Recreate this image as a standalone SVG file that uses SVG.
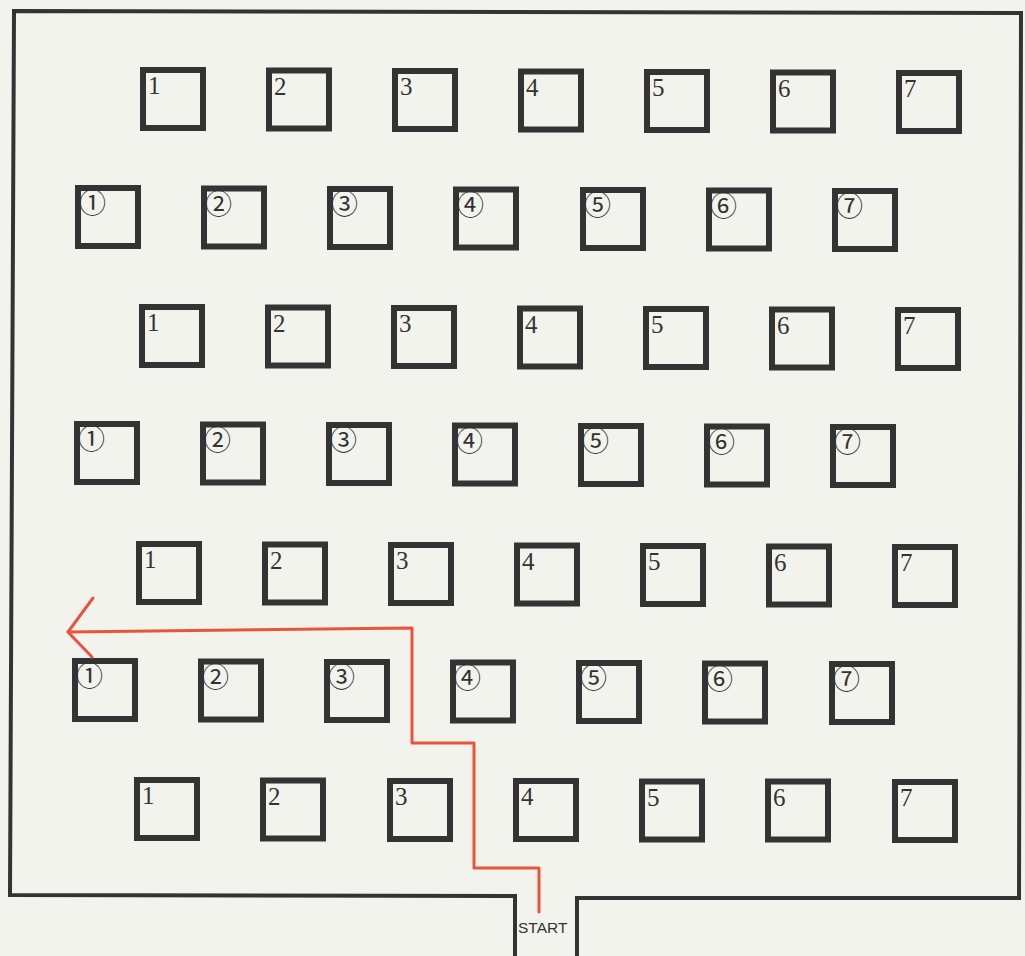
<svg xmlns="http://www.w3.org/2000/svg" width="1025" height="956" viewBox="0 0 1025 956">
<style>
.bg{fill:#f3f3ee}
.wall{fill:none;stroke:#333;stroke-width:4;stroke-linejoin:miter}
.bx{fill:none;stroke:#333;stroke-width:6}
.n{font-family:"Liberation Serif","Times New Roman",serif;font-size:25px;fill:#333}
.c{font-family:"Liberation Serif","DejaVu Serif","Noto Sans CJK JP",serif;font-size:27px;fill:#333}
.route{fill:none;stroke:#e8553a;stroke-width:3;stroke-linecap:round;stroke-linejoin:round}
.start{font-family:"Liberation Sans",Arial,sans-serif;font-size:15.5px;fill:#333}
</style>
<defs>
<rect id="b" class="bx" x="3" y="3" width="60" height="58"/>
</defs>
<rect class="bg" x="0" y="0" width="1025" height="956"/>
<g id="walls">
<polyline class="wall" points="515,956 515,896 10,895 14,11 1021,13 1019,898 577,898 577,956"/>
</g>
<g id="rowA">
<g id="a1" transform="translate(140,67)"><use href="#b"/><text class="n" x="8" y="27">1</text></g>
<g id="a2" transform="translate(266,67.5)"><use href="#b"/><text class="n" x="8" y="27">2</text></g>
<g id="a3" transform="translate(392,68)"><use href="#b"/><text class="n" x="8" y="27">3</text></g>
<g id="a4" transform="translate(518,68.5)"><use href="#b"/><text class="n" x="8" y="27">4</text></g>
<g id="a5" transform="translate(644,69)"><use href="#b"/><text class="n" x="8" y="27">5</text></g>
<g id="a6" transform="translate(770,69.5)"><use href="#b"/><text class="n" x="8" y="27">6</text></g>
<g id="a7" transform="translate(896,70)"><use href="#b"/><text class="n" x="8" y="27">7</text></g>
</g>
<g id="rowB">
<g id="b1" transform="translate(75,185)"><use href="#b"/><text class="c" x="4" y="28">①</text></g>
<g id="b2" transform="translate(201,185.5)"><use href="#b"/><text class="c" x="4" y="28">②</text></g>
<g id="b3" transform="translate(327,186)"><use href="#b"/><text class="c" x="4" y="28">③</text></g>
<g id="b4" transform="translate(453,186.5)"><use href="#b"/><text class="c" x="4" y="28">④</text></g>
<g id="b5" transform="translate(580,187)"><use href="#b"/><text class="c" x="4" y="28">⑤</text></g>
<g id="b6" transform="translate(706,187.5)"><use href="#b"/><text class="c" x="4" y="28">⑥</text></g>
<g id="b7" transform="translate(832,188)"><use href="#b"/><text class="c" x="4" y="28">⑦</text></g>
</g>
<g id="rowC">
<g id="c1" transform="translate(139,304)"><use href="#b"/><text class="n" x="8" y="27">1</text></g>
<g id="c2" transform="translate(265,304.5)"><use href="#b"/><text class="n" x="8" y="27">2</text></g>
<g id="c3" transform="translate(391,305)"><use href="#b"/><text class="n" x="8" y="27">3</text></g>
<g id="c4" transform="translate(517,305.5)"><use href="#b"/><text class="n" x="8" y="27">4</text></g>
<g id="c5" transform="translate(643,306)"><use href="#b"/><text class="n" x="8" y="27">5</text></g>
<g id="c6" transform="translate(769,306.5)"><use href="#b"/><text class="n" x="8" y="27">6</text></g>
<g id="c7" transform="translate(895,307)"><use href="#b"/><text class="n" x="8" y="27">7</text></g>
</g>
<g id="rowD">
<g id="d1" transform="translate(74,421)"><use href="#b"/><text class="c" x="4" y="28">①</text></g>
<g id="d2" transform="translate(200,421.5)"><use href="#b"/><text class="c" x="4" y="28">②</text></g>
<g id="d3" transform="translate(326,422)"><use href="#b"/><text class="c" x="4" y="28">③</text></g>
<g id="d4" transform="translate(452,422.5)"><use href="#b"/><text class="c" x="4" y="28">④</text></g>
<g id="d5" transform="translate(578,423)"><use href="#b"/><text class="c" x="4" y="28">⑤</text></g>
<g id="d6" transform="translate(704,423.5)"><use href="#b"/><text class="c" x="4" y="28">⑥</text></g>
<g id="d7" transform="translate(830,424)"><use href="#b"/><text class="c" x="4" y="28">⑦</text></g>
</g>
<g id="rowE">
<g id="e1" transform="translate(136,541)"><use href="#b"/><text class="n" x="8" y="27">1</text></g>
<g id="e2" transform="translate(262,541.5)"><use href="#b"/><text class="n" x="8" y="27">2</text></g>
<g id="e3" transform="translate(388,542)"><use href="#b"/><text class="n" x="8" y="27">3</text></g>
<g id="e4" transform="translate(514,542.5)"><use href="#b"/><text class="n" x="8" y="27">4</text></g>
<g id="e5" transform="translate(640,543)"><use href="#b"/><text class="n" x="8" y="27">5</text></g>
<g id="e6" transform="translate(766,543.5)"><use href="#b"/><text class="n" x="8" y="27">6</text></g>
<g id="e7" transform="translate(892,544)"><use href="#b"/><text class="n" x="8" y="27">7</text></g>
</g>
<g id="rowF">
<g id="f1" transform="translate(72,658)"><use href="#b"/><text class="c" x="4" y="28">①</text></g>
<g id="f2" transform="translate(198,658.5)"><use href="#b"/><text class="c" x="4" y="28">②</text></g>
<g id="f3" transform="translate(324,659)"><use href="#b"/><text class="c" x="4" y="28">③</text></g>
<g id="f4" transform="translate(450,659.5)"><use href="#b"/><text class="c" x="4" y="28">④</text></g>
<g id="f5" transform="translate(576,660)"><use href="#b"/><text class="c" x="4" y="28">⑤</text></g>
<g id="f6" transform="translate(702,660.5)"><use href="#b"/><text class="c" x="4" y="28">⑥</text></g>
<g id="f7" transform="translate(829,661)"><use href="#b"/><text class="c" x="4" y="28">⑦</text></g>
</g>
<g id="rowG">
<g id="g1" transform="translate(134,777)"><use href="#b"/><text class="n" x="8" y="27">1</text></g>
<g id="g2" transform="translate(260,777.5)"><use href="#b"/><text class="n" x="8" y="27">2</text></g>
<g id="g3" transform="translate(387,778)"><use href="#b"/><text class="n" x="8" y="27">3</text></g>
<g id="g4" transform="translate(513,778)"><use href="#b"/><text class="n" x="8" y="27">4</text></g>
<g id="g5" transform="translate(639,778.5)"><use href="#b"/><text class="n" x="8" y="27">5</text></g>
<g id="g6" transform="translate(765,778.5)"><use href="#b"/><text class="n" x="8" y="27">6</text></g>
<g id="g7" transform="translate(892,779)"><use href="#b"/><text class="n" x="8" y="27">7</text></g>
</g>
<g id="start">
<text class="start" x="518" y="933">START</text>
</g>
<g id="connectors">
<polyline class="route" points="539,912 539,868 474,868 474,743 412,743 412,628 68,632"/>
<polyline class="route" points="93,598 68,632 92,657"/>
</g>
</svg>
